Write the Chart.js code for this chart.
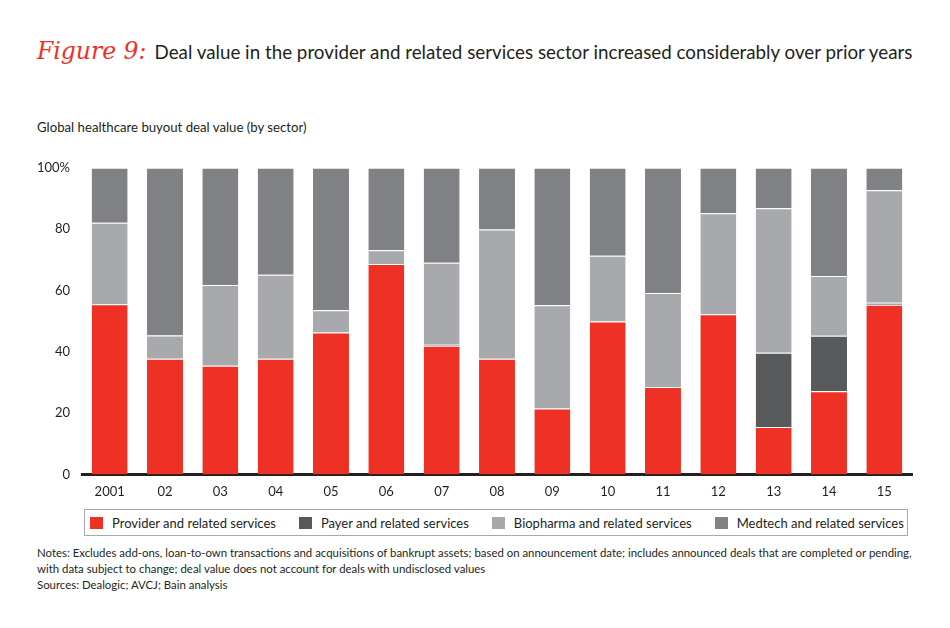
<!DOCTYPE html>
<html>
<head>
<meta charset="utf-8">
<script src="https://cdn.jsdelivr.net/npm/chart.js@4.4.1/dist/chart.umd.min.js"></script>
<style>
  body { margin: 0; background: #fff; font-family: Lato, "Open Sans", sans-serif; color: #231f20; }
  #page { position: relative; width: 950px; height: 628px; overflow: hidden; }
  #title { position: absolute; left: 37px; top: 37px; font-size: 18.8px; white-space: nowrap; }
  #title .fig { color: #ee3124; font-family: "DejaVu Serif", serif; font-style: italic; font-size: 23.5px; margin-right: 8px; }
  #subtitle { position: absolute; left: 37px; top: 119px; font-size: 13.2px; }
  #chartBox { position: absolute; left: 0; top: 148px; width: 950px; height: 362px; }
  #legend { position: absolute; left: 84px; top: 509px; width: 822px; height: 25px; border: 1px solid #a7a9ac;
            background: #fff; display: flex; align-items: center; font-size: 13px; white-space: nowrap; }
  #legend .item { display: flex; align-items: center; margin-right: 23px; }
  #legend .item:first-child { margin-left: 5px; }
  #legend .sw { width: 13px; height: 12px; margin-right: 9px; }
  #notes { position: absolute; left: 37px; top: 545px; font-size: 11.4px; line-height: 16px; }
</style>
</head>
<body>
<div id="page">
  <div id="title"><span class="fig">Figure 9:</span>Deal value in the provider and related services sector increased considerably over prior years</div>
  <div id="subtitle">Global healthcare buyout deal value (by sector)</div>
  <div id="chartBox"><canvas id="myChart"></canvas></div>
  <div id="legend"></div>
  <div id="notes">Notes: Excludes add-ons, loan-to-own transactions and acquisitions of bankrupt assets; based on announcement date; includes announced deals that are completed or pending,<br>with data subject to change; deal value does not account for deals with undisclosed values<br>Sources: Dealogic; AVCJ; Bain analysis</div>
</div>
<script>
// Categorias (años)
const years = ["2001", "02", "03", "04", "05", "06", "07", "08", "09", "10", "11", "12", "13", "14", "15"];

// Porcentaje de cada sector por año
const provider  = [55.5, 37.7, 35.4, 37.7, 46.3, 68.6, 42.0, 37.7, 21.5, 49.9, 28.5, 52.2, 15.5, 27.1, 55.3];
const payer     = [0, 0, 0, 0, 0, 0, 0.3, 0, 0, 0, 0, 0, 24.2, 18.1, 0.7];
const biopharma = [26.6, 7.6, 26.4, 27.4, 7.2, 4.5, 26.7, 42.2, 33.7, 21.4, 30.7, 33.0, 47.1, 19.5, 36.7];
const medtech   = [17.9, 54.7, 38.2, 34.9, 46.5, 26.9, 31.0, 20.1, 44.8, 28.7, 40.8, 14.8, 13.2, 35.3, 7.3];

// Ticks del eje Y
const yTicks = [0, 20, 40, 60, 80, 100];

// Funcion que arma la leyenda en el DOM a partir de los datasets del grafico
function renderLegend(chart) {
  const box = document.getElementById("legend");
  box.innerHTML = "";
  chart.data.datasets.forEach((ds) => {
    const item = document.createElement("div");
    item.className = "item";
    item.innerHTML = `<span class="sw" style="background:${ds.backgroundColor}"></span>${ds.label}`;
    box.appendChild(item);
  });
}

function renderGraph() {
  const segBorder = { top: 1, right: 0, bottom: 0, left: 0 };
  const data = {
    labels: years,
    datasets: [
      { label: "Provider and related services", data: provider, backgroundColor: "#ee3124" },
      { label: "Payer and related services", data: payer, backgroundColor: "#58595b" },
      { label: "Biopharma and related services", data: biopharma, backgroundColor: "#a7a9ac" },
      { label: "Medtech and related services", data: medtech, backgroundColor: "#808184" }
    ]
  };

  const config = {
    type: "bar",
    data,
    options: {
      responsive: true,
      maintainAspectRatio: false,
      animation: false,
      datasets: {
        bar: {
          categoryPercentage: 1, barPercentage: 0.65,
          borderWidth: segBorder, borderSkipped: false,
          borderColor: "rgba(255,255,255,0.45)"
        }
      },
      layout: { padding: { top: 6, right: 38, left: 0, bottom: 0 } },
      plugins: {
        tooltip: { enabled: false },
        legend: { display: false }
      },
      scales: {
        x: {
          stacked: true,
          grid: { display: false, drawTicks: false },
          border: { display: true, color: "#231f20", width: 3 },
          ticks: { color: "#231f20", padding: 10, font: { family: "Lato", size: 13 } }
        },
        y: {
          stacked: true,
          min: 0, max: 100,
          afterFit(scale) { scale.width = 82; },
          afterBuildTicks(scale) { scale.ticks = yTicks.map(v => ({ value: v })); },
          grid: { display: false, drawTicks: false },
          border: { display: false },
          ticks: {
            color: "#231f20", padding: 12,
            font: { family: "Lato", size: 13 },
            callback: v => v === 100 ? "100%" : v
          }
        }
      }
    }
  };

  const chart = new Chart(document.getElementById("myChart"), config);
  renderLegend(chart);
}

renderGraph();
</script>
</body>
</html>
